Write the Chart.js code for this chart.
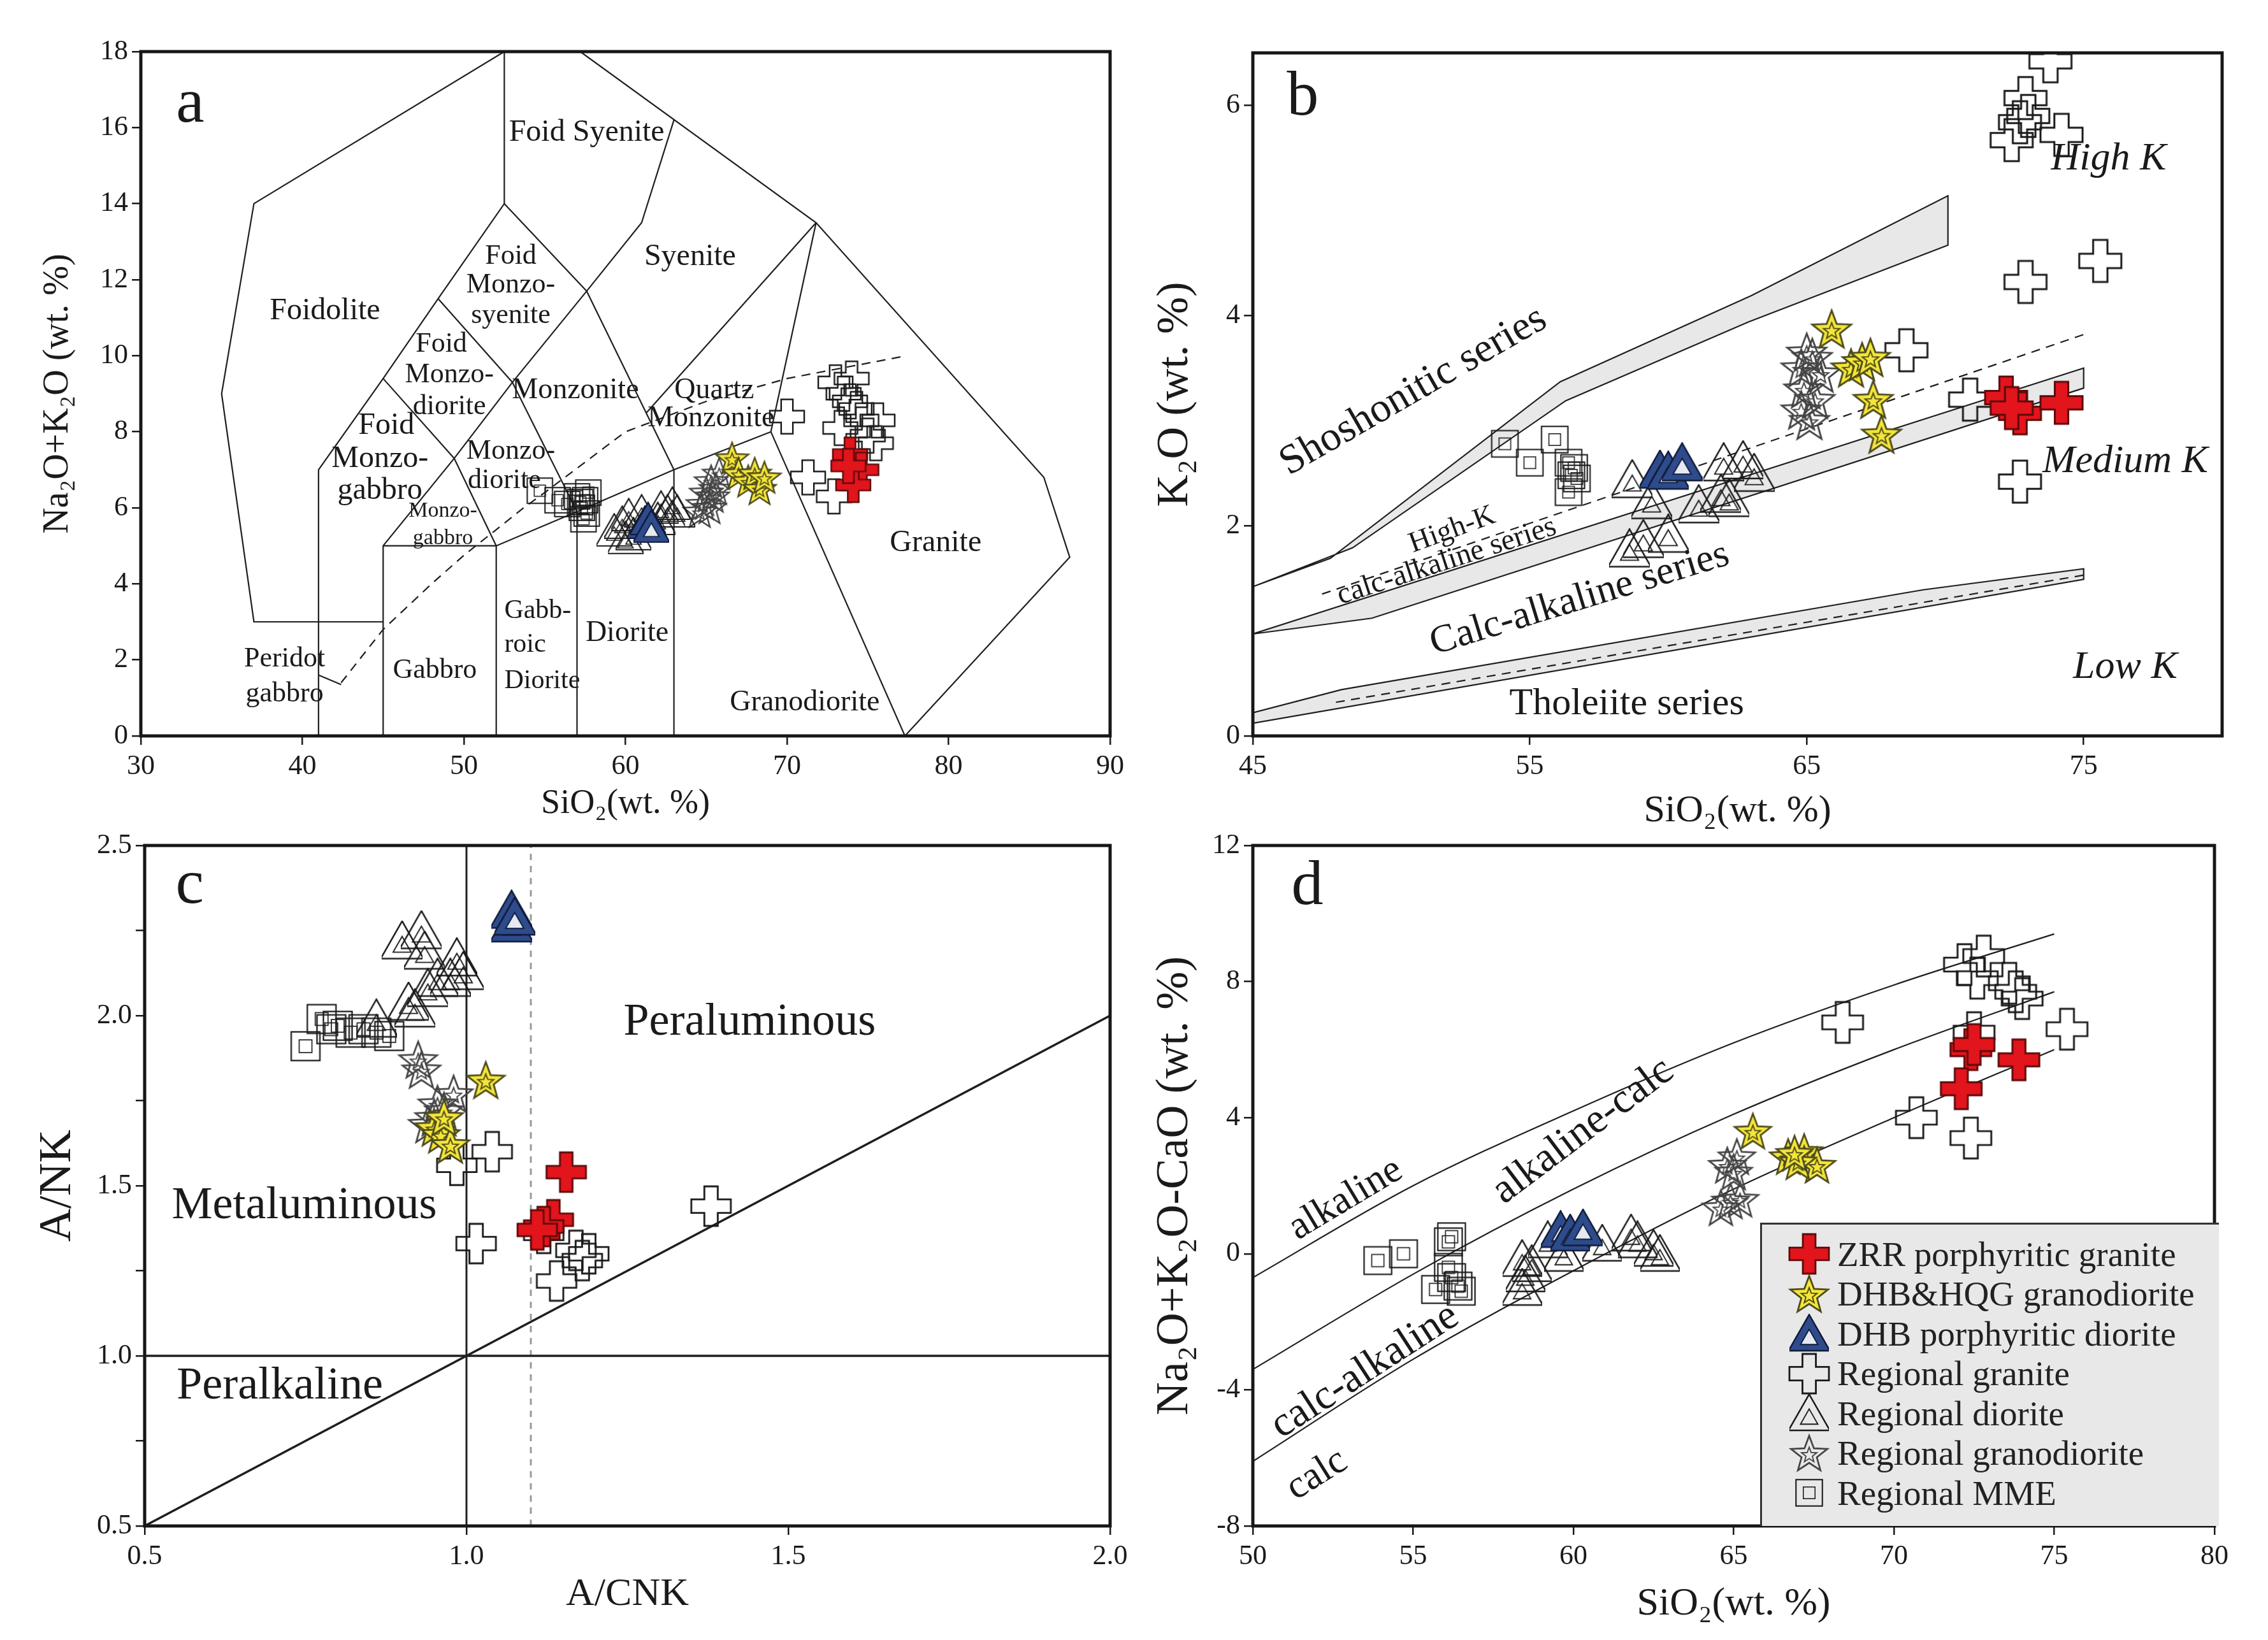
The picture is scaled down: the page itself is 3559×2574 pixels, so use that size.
<!DOCTYPE html>
<html>
<head>
<meta charset="utf-8">
<script src="https://cdn.jsdelivr.net/npm/chart.js@4.4.1/dist/chart.umd.min.js"></script>
<style>
  body { margin: 0; background: #fff; width: 3559px; height: 2574px; position: relative; overflow: hidden; }
  .panel { position: absolute; }
  #legend { position: absolute; left: 2762px; top: 1919px; width: 720px; height: 476px; box-sizing: border-box;
            background: #e8e8e8; border-top: 3px solid #333; border-left: 3px solid #333; padding-top: 15px;
            font-family: 'Liberation Serif', 'Times New Roman', serif; font-size: 55px; color: #222; }
  #legend .row { height: 62.5px; display: flex; align-items: center; white-space: nowrap; }
</style>
</head>
<body>
<div class="panel" style="left:0;top:0;width:1780px;height:1300px"><canvas id="chartA"></canvas></div>
<div class="panel" style="left:1780px;top:0;width:1779px;height:1310px"><canvas id="chartB"></canvas></div>
<div class="panel" style="left:0;top:1290px;width:1780px;height:1284px"><canvas id="chartC"></canvas></div>
<div class="panel" style="left:1780px;top:1290px;width:1779px;height:1284px"><canvas id="chartD"></canvas></div>
<div id="legend"></div>

<script>
const FONT = "'Liberation Serif', 'Times New Roman', serif";

// ---------- legend ----------
const seriesNames = ['ZRR porphyritic granite', 'DHB&HQG granodiorite', 'DHB porphyritic diorite',
  'Regional granite', 'Regional diorite', 'Regional granodiorite', 'Regional MME'];
const seriesKinds = ['crossRed', 'starYellow', 'triBlue', 'cross', 'tri', 'starGray', 'square'];

// ---------- a: TAS (SiO2 vs Na2O+K2O) ----------
const aZRR = [[73.9,7.4],[74.6,7.0],[74.1,6.6],[73.8,7.1]];
const aDHBHQG = [[66.6,7.3],[67.0,6.9],[67.6,6.7],[68.0,6.9],[68.3,6.5],[68.6,6.8]];
const aDHBdiorite = [[61.2,5.6],[61.4,5.7],[61.6,5.5]];
const aRegGranite = [[70.0,8.4],[71.3,6.8],[72.9,6.3],[73.0,9.3],[73.5,9.0],[73.9,8.8],[73.3,8.1],[74.3,8.6],[74.6,8.3],[75.0,7.9],[75.6,8.3],[75.5,7.7],[74.0,9.4]];
const aRegDiorite = [[59.3,5.4],[59.8,5.6],[60.2,5.8],[60.5,5.3],[61.0,5.9],[62.2,6.0],[62.6,5.9],[62.9,6.1],[63.2,5.9],[60.0,5.2],[62.0,5.7]];
const aRegGranodiorite = [[64.8,6.1],[65.0,6.4],[65.3,6.7],[65.6,6.5],[65.2,6.0],[64.6,5.9],[65.8,6.9],[65.4,6.3]];
const aRegMME = [[54.7,6.45],[55.8,6.2],[56.4,6.1],[57.0,6.3],[57.3,6.0],[57.5,6.2],[57.6,5.85],[57.4,5.7],[57.7,6.4],[57.2,6.15]];
const aXTicks = [30,40,50,60,70,80,90];
const aYTicks = [0,2,4,6,8,10,12,14,16,18];
// field boundaries
const aFields = [
  [[41,3],[37,3],[35,9],[37,14],[52.5,18]],
  [[52.5,18],[52.5,14]],
  [[41,0],[41,7],[45,9.4],[48.4,11.5],[52.5,14],[57.6,11.7]],
  [[45,9.4],[49.4,7.3]],
  [[48.4,11.5],[53,9.3]],
  [[45,0],[45,5],[49.4,7.3],[53,9.3],[57.6,11.7],[61,13.5],[63,16.2]],
  [[45,5],[52,5],[57,5.9],[63,7],[69,8]],
  [[41,3],[45,3]],
  [[52,0],[52,5]],
  [[57,0],[57,5.9]],
  [[63,0],[63,7]],
  [[49.4,7.3],[52,5]],
  [[53,9.3],[57,5.9]],
  [[57.6,11.7],[63,7]],
  [[71.8,13.5],[61.3,8.5]],
  [[69,8],[71.8,13.5]],
  [[57.2,18],[71.8,13.5],[85.9,6.8],[87.5,4.7],[77.3,0]],
  [[69,8],[77.3,0]],
  [[41,1.6],[42.4,1.35]]
];
const aAlkalineLine = [[42.4,1.4],[45,2.8],[48,4],[50,4.75],[53.7,6],[55,6.4],[60,8],[65,8.8],[70,9.4],[77.4,10]];

// ---------- b: SiO2 vs K2O ----------
const bZRR = [[72.2,3.22],[72.7,3.07],[74.2,3.17],[72.4,3.12]];
const bDHBHQG = [[65.9,3.87],[66.6,3.5],[67.0,3.56],[67.3,3.6],[67.4,3.2],[67.7,2.87]];
const bDHBdiorite = [[59.7,2.53],[60.0,2.52],[60.5,2.6]];
const bRegGranite = [[73.8,6.42],[72.9,6.07],[73.0,5.9],[72.7,5.84],[72.4,5.67],[74.2,5.72],[72.9,4.32],[75.6,4.52],[68.6,3.67],[70.9,3.2],[72.7,2.42]];
const bRegDiorite = [[58.7,2.44],[59.4,2.24],[60.0,1.92],[59.1,1.87],[58.6,1.78],[61.1,2.2],[61.9,2.3],[62.0,2.6],[62.7,2.62],[63.1,2.5],[62.2,2.26]];
const bRegGranodiorite = [[64.8,3.5],[65.2,3.6],[65.5,3.45],[65.0,3.65],[64.8,3.1],[65.1,3.0],[65.3,3.2],[64.9,3.3]];
const bRegMME = [[54.1,2.78],[55.0,2.6],[55.9,2.82],[56.4,2.6],[56.5,2.48],[56.7,2.45],[56.4,2.32],[56.6,2.55]];
const bXTicks = [45,55,65,75];
const bYTicks = [0,2,4,6];
const bBandShoshonite = [[45,1.42],[47.8,1.69],[56.1,3.37],[63.0,4.19],[70.1,5.14],[70.1,4.67],[62.9,3.94],[56.3,3.19],[48.6,1.79],[45,1.42]];
const bBandHighK = [[45,0.97],[75,3.5],[75,3.31],[49.3,1.12],[45,0.97]];
const bBandLowK = [[45,0.22],[48.2,0.44],[69.2,1.39],[75,1.59],[75,1.49],[45,0.12],[45,0.22]];
const bDashHighK = [[47.5,1.35],[75,3.82]];
const bDashLowK = [[48,0.32],[75,1.53]];

// ---------- c: A/CNK vs A/NK ----------
const cZRR = [[1.155,1.54],[1.135,1.40],[1.12,1.38],[1.11,1.37]];
const cDHBHQG = [[1.03,1.81],[0.95,1.67],[0.96,1.65],[0.975,1.62],[0.965,1.70]];
const cDHBdiorite = [[1.07,2.31],[1.07,2.27],[1.075,2.29]];
const cRegGranite = [[1.04,1.6],[0.985,1.56],[1.015,1.33],[1.12,1.36],[1.17,1.31],[1.18,1.28],[1.19,1.3],[1.14,1.22],[1.38,1.44]];
const cRegDiorite = [[0.90,2.22],[0.93,2.25],[0.935,2.19],[0.985,2.17],[0.995,2.13],[0.955,2.11],[0.94,2.08],[0.91,2.04],[0.92,2.02],[0.86,1.99],[0.975,2.11]];
const cRegGranodiorite = [[0.925,1.87],[0.93,1.84],[0.955,1.74],[0.965,1.72],[0.94,1.68],[0.98,1.77],[0.95,1.70]];
const cRegMME = [[0.75,1.91],[0.775,1.99],[0.79,1.96],[0.82,1.95],[0.84,1.96],[0.86,1.95],[0.88,1.94],[0.80,1.97]];
const cXTicks = [0.5,1.0,1.5,2.0];
const cYTicks = [0.5,0.75,1.0,1.25,1.5,1.75,2.0,2.25,2.5];
const cMetaLine = [[1.0,0.5],[1.0,2.5]];
const cAlkLine = [[0.5,1.0],[2.0,1.0]];
const cDiagLine = [[0.5,0.5],[2.0,2.0]];
const cSTypeLine = [[1.1,0.5],[1.1,2.5]];

// ---------- d: SiO2 vs Na2O+K2O-CaO ----------
const dZRR = [[72.4,6.0],[72.1,4.85],[73.9,5.7],[72.5,6.15]];
const dDHBHQG = [[65.6,3.6],[66.7,2.85],[67.2,3.0],[67.6,2.6],[67.0,2.7],[66.9,2.95]];
const dDHBdiorite = [[59.6,0.7],[59.9,0.6],[60.3,0.75]];
const dRegGranite = [[72.2,8.5],[72.8,8.75],[72.6,8.1],[73.6,7.95],[73.8,7.7],[74.0,7.5],[68.4,6.8],[75.4,6.6],[72.5,6.5],[70.7,4.0],[72.4,3.4]];
const dRegDiorite = [[58.4,-0.15],[58.5,-0.6],[58.4,-1.0],[58.7,-0.3],[59.7,0.0],[59.2,0.4],[60.9,0.3],[61.8,0.6],[62.0,0.4],[62.5,0.15],[62.7,0.0]];
const dRegGranodiorite = [[65.1,2.85],[64.8,2.6],[65.0,2.4],[64.9,1.55],[64.6,1.35],[65.2,1.6]];
const dRegMME = [[53.9,-0.2],[54.7,0.0],[56.1,0.35],[56.2,0.5],[56.1,-0.4],[55.7,-1.05],[56.4,-0.95],[56.5,-1.1],[56.2,-0.7]];
const dXTicks = [50,55,60,65,70,75,80];
const dYTicks = [-8,-4,0,4,8,12];
const dCurveSiO2 = [50,55,60,65,70,75];
const dCurveAlkaline = [-0.7,2.0,4.2,6.2,7.9,9.4];
const dCurveAlkCalc = [-3.4,-0.6,1.9,4.1,6.0,7.7];
const dCurveCalcAlk = [-6.1,-3.1,-0.5,1.9,4.0,6.0];

// ---------- marker symbols ----------
function marker(kind, size) {
  const pad = 4;
  const c = document.createElement('canvas');
  c.width = c.height = Math.round(size + pad * 2);
  const g = c.getContext('2d');
  const m = c.width / 2, r = size / 2;
  g.lineWidth = Math.max(2, size / 22);
  g.lineJoin = 'miter';
  const poly = pts => { g.beginPath(); pts.forEach(([px, py], i) => i ? g.lineTo(px, py) : g.moveTo(px, py)); g.closePath(); };
  const star = (R, cy) => {
    const pts = [];
    for (let i = 0; i < 10; i++) {
      const a = -Math.PI / 2 + i * Math.PI / 5, rr = i % 2 ? R * 0.42 : R;
      pts.push([m + rr * Math.cos(a), cy + rr * Math.sin(a)]);
    }
    poly(pts);
  };
  const tri = (s, cy) => poly([[m, cy - s * 0.6], [m + s * 0.6, cy + s * 0.45], [m - s * 0.6, cy + s * 0.45]]);
  if (kind === 'cross' || kind === 'crossRed') {
    const t = size * (kind === 'crossRed' ? 0.16 : 0.17);
    poly([[m-t,m-r],[m+t,m-r],[m+t,m-t],[m+r,m-t],[m+r,m+t],[m+t,m+t],[m+t,m+r],[m-t,m+r],[m-t,m+t],[m-r,m+t],[m-r,m-t],[m-t,m-t]]);
    if (kind === 'crossRed') { g.fillStyle = '#e2141c'; g.fill(); g.strokeStyle = '#5c0a0a'; }
    else g.strokeStyle = '#1a1a1a';
    g.stroke();
  } else if (kind === 'starYellow' || kind === 'starGray') {
    star(r, m + r * 0.08);
    if (kind === 'starYellow') { g.fillStyle = '#f3e63a'; g.fill(); g.strokeStyle = '#4d4a1a'; }
    else g.strokeStyle = '#444';
    g.stroke();
    star(r * 0.42, m + r * 0.1);
    g.lineWidth = Math.max(1.5, size / 32);
    g.stroke();
  } else if (kind === 'tri' || kind === 'triBlue') {
    tri(size, m + size * 0.05);
    if (kind === 'triBlue') { g.fillStyle = '#2e4b8c'; g.fill(); g.strokeStyle = '#0f1a38'; }
    else g.strokeStyle = '#1a1a1a';
    g.stroke();
    tri(size * 0.42, m + size * 0.13);
    if (kind === 'triBlue') { g.fillStyle = '#e6e9f2'; g.fill(); }
    g.lineWidth = Math.max(1.5, size / 30);
    g.stroke();
  } else if (kind === 'square') {
    const s = size * 0.45, q = size * 0.2;
    g.strokeStyle = '#1a1a1a';
    g.strokeRect(m - s, m - s, 2 * s, 2 * s);
    g.lineWidth = Math.max(1.5, size / 30);
    g.strokeRect(m - q, m - q, 2 * q, 2 * q);
  }
  return c;
}

// ---------- helpers ----------
const xy = arr => arr.map(([x, y]) => ({ x, y }));
const zip = (xs, ys) => xs.map((x, i) => ({ x, y: ys[i] }));

function pointSets(groups, sizes) {
  return groups.map((pts, i) => {
    const kind = seriesKinds[i];
    const sz = kind.startsWith('cross') ? sizes.cross : kind.startsWith('star') ? sizes.star
             : kind.startsWith('tri') ? sizes.tri : sizes.square;
    return { label: seriesNames[i], data: xy(pts), pointStyle: marker(kind, sz), showLine: false };
  });
}

function lineSet(data, o = {}) {
  return {
    data, showLine: true, pointRadius: 0, pointHoverRadius: 0,
    borderColor: o.color || '#1f1f1f', borderWidth: o.width || 2.2, borderDash: o.dash || [],
    backgroundColor: o.fillColor || 'transparent', fill: o.fillColor ? 'shape' : false,
    cubicInterpolationMode: o.smooth ? 'monotone' : 'default'
  };
}

function axis(pos, min, max, ticks, fmt, title, titleSize, titlePad, fit) {
  return {
    type: 'linear', position: pos, min, max,
    afterBuildTicks: s => { s.ticks = ticks.map(v => ({ value: v })); },
    afterFit: s => { if (pos === 'left') s.width = fit; else s.height = fit; },
    grid: { drawOnChartArea: false, drawTicks: true, tickLength: 14, lineWidth: 2.5, color: '#1a1a1a' },
    border: { display: false },
    ticks: { font: { family: FONT, size: 44 }, color: '#1a1a1a', padding: pos === 'left' ? 6 : 8,
             callback: fmt, maxRotation: 0, autoSkip: false },
    title: { display: true, text: title, color: '#1a1a1a',
             font: { family: FONT, size: titleSize, lineHeight: 1 },
             padding: pos === 'left' ? { top: titlePad, bottom: 0 } : { top: 0, bottom: titlePad } }
  };
}

const notesPlugin = {
  id: 'notes',
  beforeDatasetsDraw(chart, args, opts) {
    const { ctx, scales: { x, y } } = chart;
    (opts.items || []).forEach(n => {
      ctx.save();
      ctx.translate(x.getPixelForValue(n.x), y.getPixelForValue(n.y));
      ctx.rotate((n.angle || 0) * Math.PI / 180);
      ctx.font = (n.italic ? 'italic ' : '') + n.size + 'px ' + FONT;
      ctx.fillStyle = '#1a1a1a';
      ctx.textAlign = n.align || 'center';
      ctx.textBaseline = 'middle';
      ctx.fillText(n.text, 0, 0);
      ctx.restore();
    });
  },
  afterDatasetsDraw(chart) {
    const { ctx, chartArea: a } = chart;
    ctx.save();
    ctx.lineWidth = 5;
    ctx.strokeStyle = '#161616';
    ctx.strokeRect(a.left, a.top, a.right - a.left, a.bottom - a.top);
    ctx.restore();
  }
};

function build(id, datasets, scales, padding, notes) {
  return new Chart(document.getElementById(id), {
    type: 'scatter',
    data: { datasets },
    options: {
      responsive: true, maintainAspectRatio: false, animation: false, devicePixelRatio: 1,
      layout: { padding },
      plugins: { legend: { display: false }, tooltip: { enabled: false }, notes: { items: notes } },
      scales
    },
    plugins: [notesPlugin]
  });
}

const num = v => String(v);
const oneDec = v => (Math.abs(v * 2 - Math.round(v * 2)) < 1e-6 ? v.toFixed(1) : '');

// ---------- panel a ----------
build('chartA',
  [...pointSets([aZRR, aDHBHQG, aDHBdiorite, aRegGranite, aRegDiorite, aRegGranodiorite, aRegMME],
                { cross: 54, star: 54, tri: 48, square: 44 }),
   ...aFields.map(f => lineSet(xy(f))),
   lineSet(xy(aAlkalineLine), { dash: [14, 10] })],
  { x: axis('bottom', 30, 90, aXTicks, num, 'SiO₂(wt. %)', 54, 11, 145),
    y: axis('left', 0, 18, aYTicks, num, 'Na₂O+K₂O (wt. %)', 56, 63, 221) },
  { left: 0, right: 38, top: 81, bottom: 0 },
  [
    { text: 'a', x: 33.05, y: 16.6, size: 100 },
    { text: 'Foid Syenite', x: 57.6, y: 15.87, size: 48 },
    { text: 'Foidolite', x: 41.4, y: 11.17, size: 48 },
    { text: 'Foid', x: 52.9, y: 12.62, size: 44 },
    { text: 'Monzo-', x: 52.9, y: 11.86, size: 44 },
    { text: 'syenite', x: 52.9, y: 11.06, size: 44 },
    { text: 'Syenite', x: 64.0, y: 12.59, size: 48 },
    { text: 'Foid', x: 48.6, y: 10.3, size: 44 },
    { text: 'Monzo-', x: 49.1, y: 9.5, size: 44 },
    { text: 'diorite', x: 49.1, y: 8.66, size: 44 },
    { text: 'Monzonite', x: 56.9, y: 9.08, size: 46 },
    { text: 'Quartz', x: 65.5, y: 9.08, size: 46 },
    { text: 'Monzonite', x: 65.3, y: 8.35, size: 46 },
    { text: 'Foid', x: 45.2, y: 8.16, size: 48 },
    { text: 'Monzo-', x: 44.8, y: 7.28, size: 48 },
    { text: 'gabbro', x: 44.8, y: 6.45, size: 48 },
    { text: 'Monzo-', x: 52.9, y: 7.48, size: 44 },
    { text: 'diorite', x: 52.5, y: 6.71, size: 44 },
    { text: 'Monzo-', x: 48.7, y: 5.91, size: 34 },
    { text: 'gabbro', x: 48.7, y: 5.19, size: 34 },
    { text: 'Peridot', x: 38.9, y: 2.02, size: 44 },
    { text: 'gabbro', x: 38.9, y: 1.1, size: 44 },
    { text: 'Gabbro', x: 48.2, y: 1.72, size: 44 },
    { text: 'Gabb-', x: 52.5, y: 3.28, size: 42, align: 'left' },
    { text: 'roic', x: 52.5, y: 2.4, size: 42, align: 'left' },
    { text: 'Diorite', x: 52.5, y: 1.45, size: 42, align: 'left' },
    { text: 'Diorite', x: 60.1, y: 2.7, size: 46 },
    { text: 'Granodiorite', x: 71.1, y: 0.88, size: 46 },
    { text: 'Granite', x: 79.2, y: 5.07, size: 48 }
  ]);

// ---------- panel b ----------
build('chartB',
  [...pointSets([bZRR, bDHBHQG, bDHBdiorite, bRegGranite, bRegDiorite, bRegGranodiorite, bRegMME],
                { cross: 66, star: 64, tri: 56, square: 46 }),
   lineSet(xy(bDashHighK), { dash: [14, 10] }),
   lineSet(xy(bDashLowK), { dash: [14, 10] }),
   lineSet(xy(bBandShoshonite), { fillColor: '#e8e8e8' }),
   lineSet(xy(bBandHighK), { fillColor: '#e8e8e8' }),
   lineSet(xy(bBandLowK), { fillColor: '#e8e8e8' })],
  { x: axis('bottom', 45, 80, bXTicks, num, 'SiO₂(wt. %)', 60, 7, 155),
    y: axis('left', 0, 6.5, bYTicks, num, 'K₂O (wt. %)', 70, 30, 186) },
  { left: 0, right: 72, top: 83, bottom: 0 },
  [
    { text: 'b', x: 46.8, y: 6.07, size: 100 },
    { text: 'Shoshonitic series', x: 50.8, y: 3.28, size: 65, angle: -30 },
    { text: 'High-K', x: 52.2, y: 1.96, size: 46, angle: -20 },
    { text: 'calc-alkaline series', x: 52.0, y: 1.66, size: 47, angle: -18 },
    { text: 'Calc-alkaline series', x: 56.8, y: 1.3, size: 62, angle: -17 },
    { text: 'Tholeiite series', x: 58.5, y: 0.30, size: 60 },
    { text: 'High K', x: 75.9, y: 5.49, size: 62, italic: true },
    { text: 'Medium K', x: 76.5, y: 2.61, size: 62, italic: true },
    { text: 'Low K', x: 76.5, y: 0.65, size: 62, italic: true }
  ]);

// ---------- panel c ----------
build('chartC',
  [...pointSets([cZRR, cDHBHQG, cDHBdiorite, cRegGranite, cRegDiorite, cRegGranodiorite, cRegMME],
                { cross: 62, star: 62, tri: 56, square: 50 }),
   lineSet(xy(cMetaLine), { width: 3 }),
   lineSet(xy(cAlkLine), { width: 3.5 }),
   lineSet(xy(cDiagLine), { width: 3.5 }),
   lineSet(xy(cSTypeLine), { width: 3, color: '#9a9a9a', dash: [10, 9] })],
  { x: axis('bottom', 0.5, 2.0, cXTicks, oneDec, 'A/CNK', 62, 40, 179),
    y: axis('left', 0.5, 2.5, cYTicks, oneDec, 'A/NK', 72, 55, 227) },
  { left: 0, right: 38, top: 37, bottom: 0 },
  [
    { text: 'c', x: 0.57, y: 2.38, size: 100 },
    { text: 'Peraluminous', x: 1.44, y: 1.98, size: 72 },
    { text: 'Metaluminous', x: 0.748, y: 1.44, size: 72 },
    { text: 'Peralkaline', x: 0.71, y: 0.91, size: 72 }
  ]);

// ---------- panel d ----------
build('chartD',
  [...pointSets([dZRR, dDHBHQG, dDHBdiorite, dRegGranite, dRegDiorite, dRegGranodiorite, dRegMME],
                { cross: 64, star: 60, tri: 54, square: 48 }),
   lineSet(zip(dCurveSiO2, dCurveAlkaline), { smooth: true }),
   lineSet(zip(dCurveSiO2, dCurveAlkCalc), { smooth: true }),
   lineSet(zip(dCurveSiO2, dCurveCalcAlk), { smooth: true })],
  { x: axis('bottom', 50, 80, dXTicks, num, 'SiO₂(wt. %)', 62, 25, 179),
    y: axis('left', -8, 12, dYTicks, num, 'Na₂O+K₂O-CaO (wt. %)', 72, 28, 186) },
  { left: 0, right: 84, top: 37, bottom: 0 },
  [
    { text: 'd', x: 51.7, y: 10.76, size: 100 },
    { text: 'alkaline', x: 52.9, y: 1.6, size: 62, angle: -31 },
    { text: 'alkaline-calc', x: 60.3, y: 3.6, size: 66, angle: -37 },
    { text: 'calc-alkaline', x: 53.5, y: -3.45, size: 66, angle: -33 },
    { text: 'calc', x: 52.0, y: -6.5, size: 62, angle: -32 }
  ]);

// ---------- legend (panel d) ----------
const legendSizes = { crossRed: 62, starYellow: 62, triBlue: 54, cross: 62, tri: 54, starGray: 60, square: 46 };
const legendBox = document.getElementById('legend');
seriesNames.forEach((name, i) => {
  const row = document.createElement('div');
  row.className = 'row';
  const icon = marker(seriesKinds[i], legendSizes[seriesKinds[i]]);
  const wrap = document.createElement('span');
  wrap.style.cssText = 'display:inline-flex;justify-content:center;width:72px;margin-left:38px;margin-right:8px';
  wrap.appendChild(icon);
  const label = document.createElement('span');
  label.textContent = name;
  row.appendChild(wrap);
  row.appendChild(label);
  legendBox.appendChild(row);
});
</script>
</body>
</html>
